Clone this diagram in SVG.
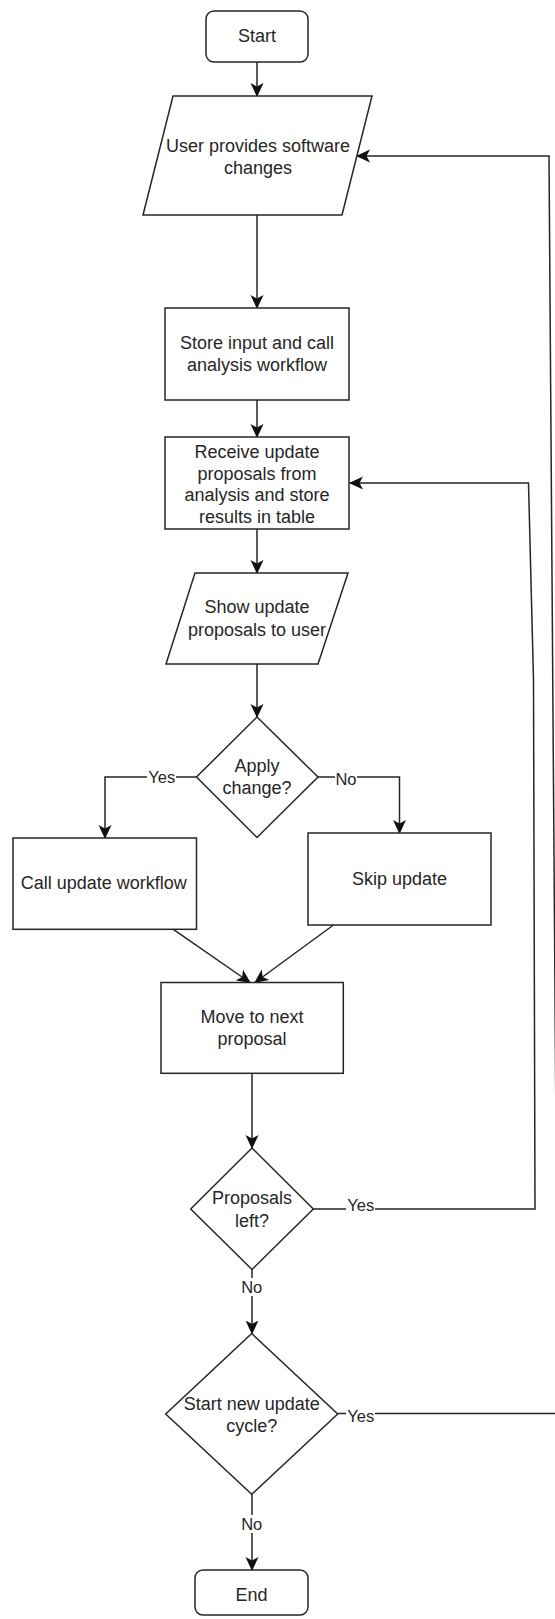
<svg xmlns="http://www.w3.org/2000/svg" width="555" height="1619" viewBox="0 0 555 1619">
<style>
.n{fill:#fff;stroke:#262626;stroke-width:1.5}
.t{font-family:"Liberation Sans",Arial,sans-serif;font-size:18px;fill:#262626;text-anchor:middle;dominant-baseline:central}
.l{font-family:"Liberation Sans",Arial,sans-serif;font-size:16.5px;fill:#262626;text-anchor:middle;dominant-baseline:central}
.c{fill:none;stroke:#262626;stroke-width:1.5}
.a{marker-end:url(#ah)}
.bg{fill:#fff;stroke:none}
</style>
<defs>
<marker id="ah" viewBox="0 0 14 14" refX="13" refY="7" markerWidth="14" markerHeight="14" markerUnits="userSpaceOnUse" orient="auto">
<path d="M0,0.5 L14,7 L0,13.5 L3.5,7 Z" fill="#111"/>
</marker>
</defs>
<rect width="555" height="1619" fill="#fff"/>
<g id="connectors">
<path class="c a" d="M257,62 V96"/>
<path class="c a" d="M257,215 V308"/>
<path class="c a" d="M257,400 V437"/>
<path class="c a" d="M257,529 V573"/>
<path class="c a" d="M257,664 V717"/>
<path class="c a" d="M196.5,777 H105 V838"/>
<path class="c a" d="M318,777 H399.5 V833"/>
<path class="c a" d="M173.3,929.3 L250,982.5"/>
<path class="c a" d="M333.5,925 L255,982.5"/>
<path class="c a" d="M252,1073.3 V1148"/>
<path class="c a" d="M313.3,1209 H535 L533.5,680 L528.5,483 H350"/>
<path class="c a" d="M252,1269.5 V1333.5"/>
<path class="c a" d="M337.7,1413.5 H558 L549,156 H357"/>
<path class="c a" d="M252,1494.3 V1570"/>
<g id="edge-labels">
<rect class="bg" x="147" y="768" width="29" height="18"/>
<text class="l" x="161.8" y="777">Yes</text>
<rect class="bg" x="335" y="770" width="22" height="18"/>
<text class="l" x="346" y="779">No</text>
<rect class="bg" x="346" y="1196" width="29" height="18"/>
<text class="l" x="360.7" y="1205">Yes</text>
<rect class="bg" x="241" y="1278" width="22" height="18"/>
<text class="l" x="251.7" y="1287">No</text>
<rect class="bg" x="346" y="1407" width="29" height="18"/>
<text class="l" x="360.7" y="1416">Yes</text>
<rect class="bg" x="241" y="1515" width="22" height="18"/>
<text class="l" x="251.7" y="1524">No</text>
</g>
</g>
<g id="start">
<rect class="n" x="206" y="11" width="102" height="51" rx="8"/>
<text class="t" x="257" y="36">Start</text>
</g>
<g id="user-provides">
<polygon class="n" points="173,96 372,96 342,215 143,215"/>
<text class="t" x="258" y="146">User provides software</text>
<text class="t" x="258" y="168">changes</text>
</g>
<g id="store-input">
<rect class="n" x="165" y="308" width="184" height="92"/>
<text class="t" x="257" y="343">Store input and call</text>
<text class="t" x="257" y="365">analysis workflow</text>
</g>
<g id="receive">
<rect class="n" x="165" y="437" width="184" height="92"/>
<text class="t" x="257" y="452">Receive update</text>
<text class="t" x="257" y="473.5">proposals from</text>
<text class="t" x="257" y="495">analysis and store</text>
<text class="t" x="257" y="516.5">results in table</text>
</g>
<g id="show">
<polygon class="n" points="195,573 348,573 318,664 166,664"/>
<text class="t" x="257" y="607">Show update</text>
<text class="t" x="257" y="629.5">proposals to user</text>
</g>
<g id="apply">
<polygon class="n" points="257,717 318,777 257,837.5 196.5,777"/>
<text class="t" x="257" y="766">Apply</text>
<text class="t" x="257" y="788">change?</text>
</g>
<g id="call-update">
<rect class="n" x="13" y="838" width="183.5" height="91.3"/>
<text class="t" x="103.8" y="882.5">Call update workflow</text>
</g>
<g id="skip">
<rect class="n" x="308" y="833" width="183" height="92"/>
<text class="t" x="399.5" y="878.5">Skip update</text>
</g>
<g id="move">
<rect class="n" x="161" y="982.5" width="182.3" height="90.8"/>
<text class="t" x="252" y="1017">Move to next</text>
<text class="t" x="252" y="1039">proposal</text>
</g>
<g id="proposals-left">
<polygon class="n" points="252,1148 313.3,1209 252,1269.5 190.7,1209"/>
<text class="t" x="252" y="1198">Proposals</text>
<text class="t" x="252" y="1220.5">left?</text>
</g>
<g id="new-cycle">
<polygon class="n" points="251.7,1333.5 337.7,1414 251.7,1494.3 165.7,1414"/>
<text class="t" x="251.7" y="1404">Start new update</text>
<text class="t" x="251.7" y="1426">cycle?</text>
</g>
<g id="end">
<rect class="n" x="195" y="1570" width="113" height="45" rx="8"/>
<text class="t" x="251.5" y="1595">End</text>
</g>
</svg>
